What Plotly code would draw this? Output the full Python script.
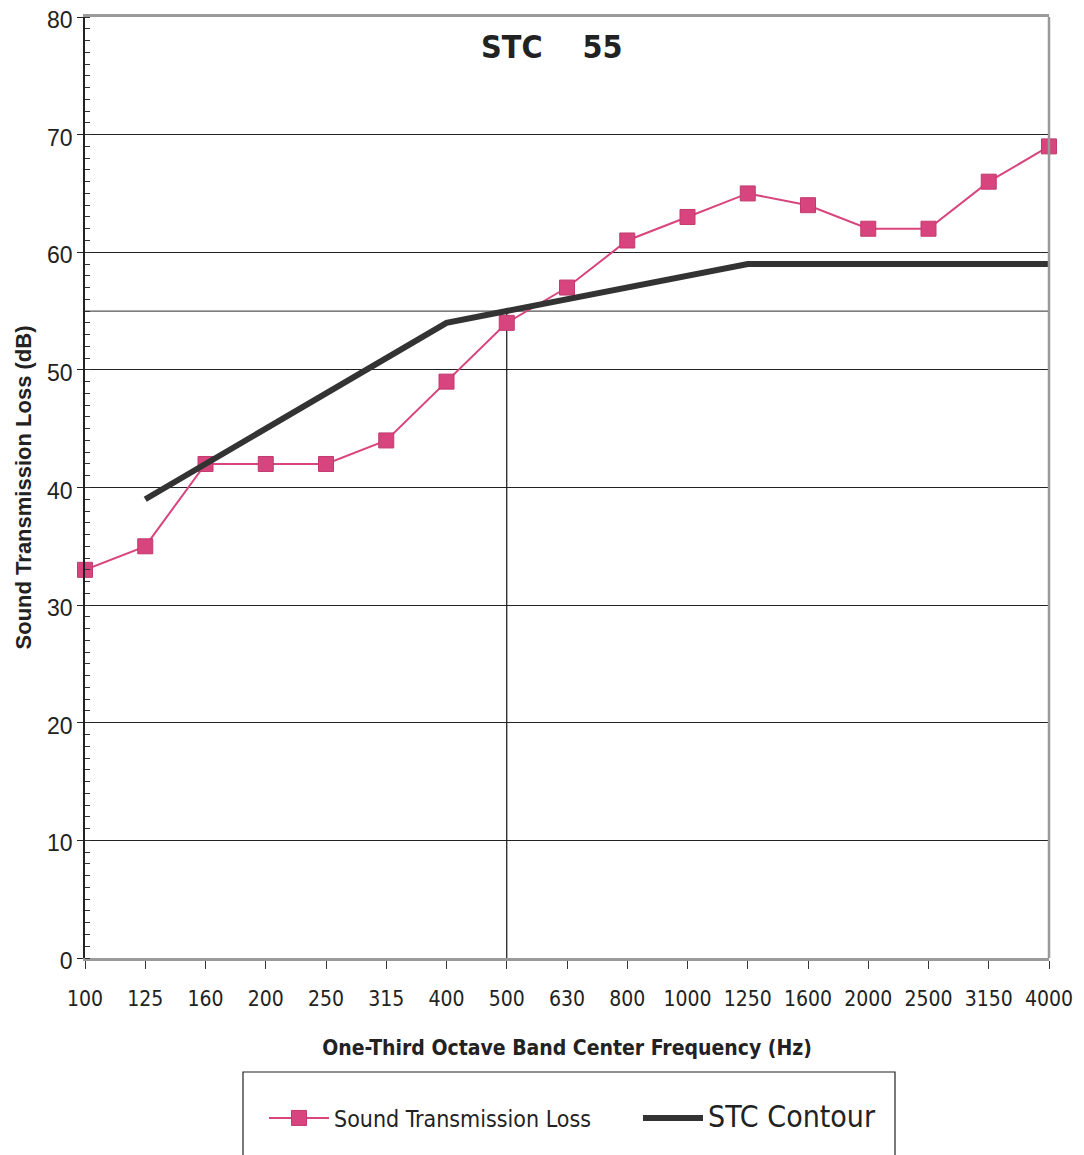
import plotly.graph_objects as go

freqs = ["100", "125", "160", "200", "250", "315", "400", "500", "630", "800",
         "1000", "1250", "1600", "2000", "2500", "3150", "4000"]
stl = [33, 35, 42, 42, 42, 44, 49, 54, 57, 61, 63, 65, 64, 62, 62, 66, 69]
stc_freqs = ["125", "160", "200", "250", "315", "400", "500", "630", "800",
             "1000", "1250", "1600", "2000", "2500", "3150", "4000"]
stc_contour = [39, 42, 45, 48, 51, 54, 55, 56, 57, 58, 59, 59, 59, 59, 59, 59]
stc_rating = 55
stc_ref_freq = "500"
y_ticks = [0, 10, 20, 30, 40, 50, 60, 70, 80]

NARROW = "DejaVu Sans Condensed, Liberation Sans Narrow, Arial Narrow, Liberation Sans, sans-serif"
ARIAL = "Liberation Sans, Arial, sans-serif"
PINK = "#D8457E"

# plot area in page pixels (page has an 8px body margin)
PL, PR, PT, PB = 85, 1049, 17, 958
PW, PH = PR - PL, PB - PT

def px(x):
    return (x - PL) / PW

def py(y):
    return (PB - y) / PH

fig = go.Figure()
fig.add_trace(go.Scatter(
    x=freqs, y=stl, mode="lines+markers",
    name="Sound Transmission Loss",
    line=dict(color=PINK, width=2),
    marker=dict(symbol="square", size=15, color=PINK, line=dict(color="#C23A6E", width=1)),
    cliponaxis=False,
))
fig.add_trace(go.Scatter(
    x=stc_freqs, y=stc_contour, mode="lines",
    name='<span style="font-size:30px">STC Contour</span>',
    line=dict(color="#333333", width=6),
    cliponaxis=False,
))

# reference lines for the STC rating
fig.add_shape(type="line", xref="paper", yref="y", x0=0, x1=1,
              y0=stc_rating, y1=stc_rating, line=dict(color="#555555", width=1.2), layer="below")
fig.add_shape(type="line", xref="x", yref="y", x0=freqs.index(stc_ref_freq), x1=freqs.index(stc_ref_freq),
              y0=0, y1=stc_rating, line=dict(color="#111111", width=1.2), layer="below")
# right border
fig.add_shape(type="line", xref="paper", yref="paper", x0=1, x1=1, y0=0, y1=1,
              line=dict(color="#999999", width=2.5))
# legend box (bottom edge runs off the page, as in the scan)
fig.add_shape(type="rect", xref="paper", yref="paper",
              x0=px(243), x1=px(895), y0=py(1072), y1=py(1162),
              line=dict(color="#222222", width=1.2), fillcolor="rgba(0,0,0,0)")

fig.add_annotation(text="<b>STC    55</b>", xref="paper", yref="paper",
                   x=px(552), y=py(47), xanchor="center", yanchor="middle", showarrow=False,
                   font=dict(family=NARROW, size=32, color="#222222"))

fig.update_layout(
    width=1084, height=1155,
    margin=dict(l=PL - 8, r=1084 - (PR - 8), t=PT - 8, b=1155 - (PB - 8), autoexpand=False),
    paper_bgcolor="white", plot_bgcolor="white",
    showlegend=True,
    legend=dict(orientation="h", x=px(264), xanchor="left",
                y=py(1118), yanchor="middle",
                font=dict(family=NARROW, size=23, color="#222222"),
                bgcolor="rgba(0,0,0,0)", borderwidth=0, itemwidth=60,
                entrywidth=299),
    xaxis=dict(
        type="category", categoryorder="array", categoryarray=freqs,
        range=[0, len(freqs) - 1], automargin=False,
        showgrid=False, zeroline=False,
        showline=True, linecolor="#9a9a9a", linewidth=3, mirror=True,
        ticks="outside", ticklen=8, tickcolor="#333333", tickwidth=1,
        tickfont=dict(family=NARROW, size=21, color="#222222"),
        ticklabelstandoff=12, ticklabeloverflow="allow",
        title=dict(text="<b>One-Third Octave Band Center Frequency (Hz)</b>",
                   font=dict(family=NARROW, size=21, color="#222222"), standoff=31),
    ),
    yaxis=dict(
        range=[0, 80], tickvals=y_ticks, automargin=False,
        showgrid=True, gridcolor="#222222", gridwidth=1, zeroline=False,
        showline=True, linecolor="#222222", linewidth=1.5,
        ticks="outside", ticklen=6, tickcolor="#222222",
        tickfont=dict(family=ARIAL, size=23, color="#222222"),
        ticklabeloverflow="allow", ticklabelshift=3,
        minor=dict(dtick=1, ticks="inside", ticklen=5, tickcolor="#333333", showgrid=False),
        title=dict(text="<b>Sound Transmission Loss (dB)</b>",
                   font=dict(family=ARIAL, size=22, color="#222222"), standoff=9),
    ),
)

fig.write_html("out.html")
